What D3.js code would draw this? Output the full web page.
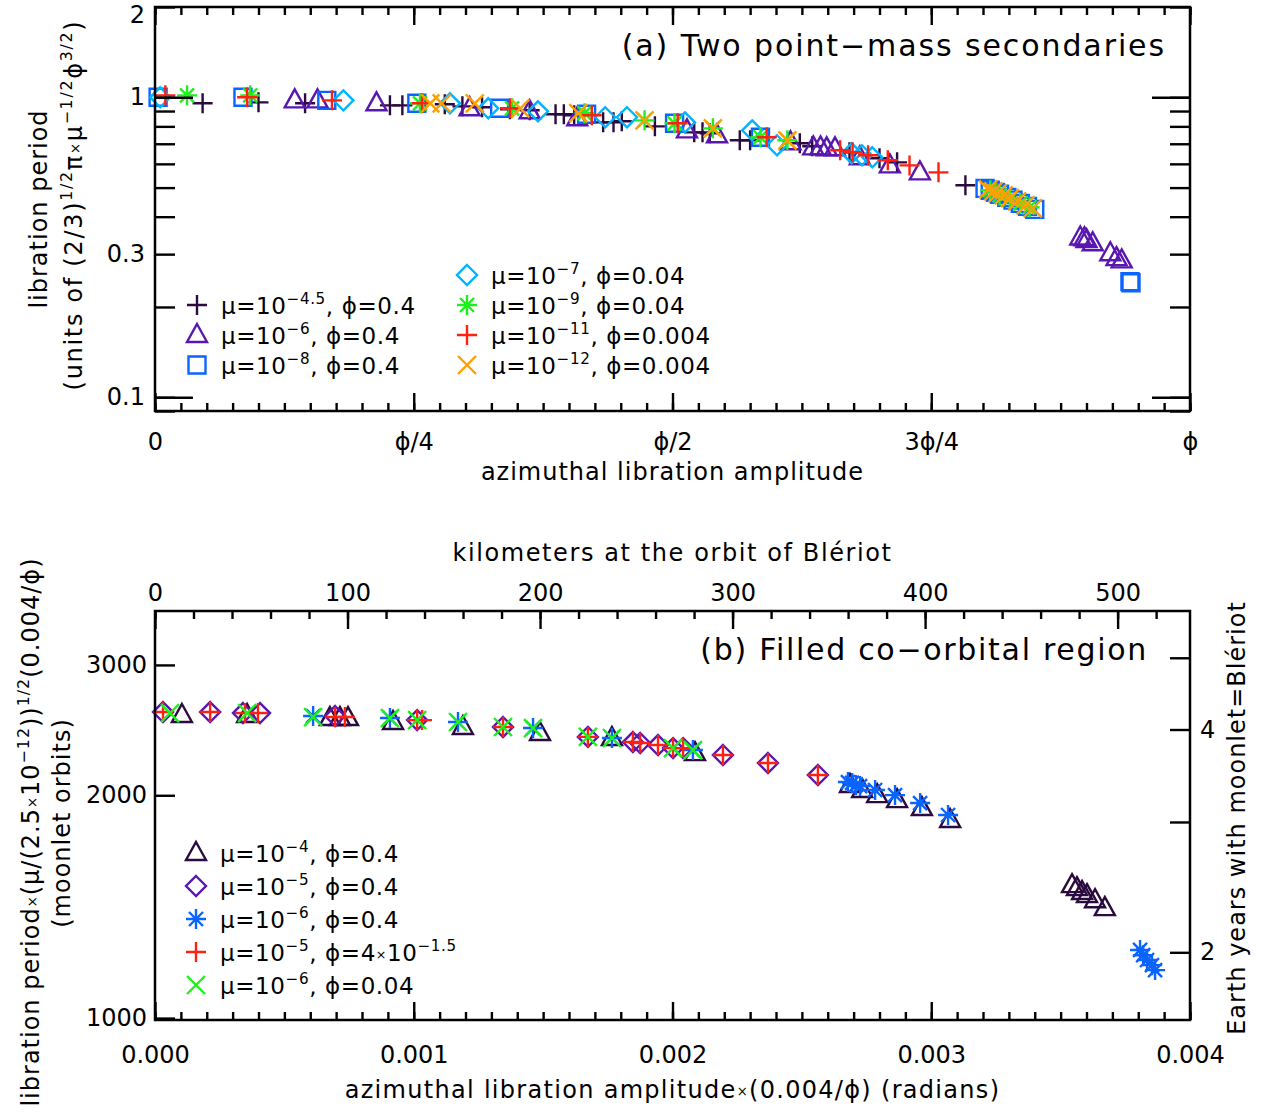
<!DOCTYPE html>
<html>
<head>
<meta charset="utf-8">
<script src="https://cdn.jsdelivr.net/npm/d3@7"></script>
<style>
body { margin: 0; background: #fff; }
svg text { font-family: "DejaVu Sans", sans-serif; fill: #000; }
</style>
</head>
<body>
<svg width="1266" height="1113"></svg>
<script>
// ---- panel (a): amplitude in units of phi, period in units of (2/3)^1/2 pi mu^-1/2 phi^3/2
var topPlusDark = [[0.046,0.955],[0.100,0.962],[0.145,0.955],[0.227,0.940],[0.239,0.940],[0.280,0.948],
  [0.297,0.933],[0.316,0.926],[0.343,0.912],[0.362,0.905],[0.387,0.878],[0.395,0.878],[0.405,0.871],
  [0.433,0.825],[0.443,0.825],[0.451,0.832],[0.483,0.800],[0.521,0.764],[0.529,0.764],[0.536,0.759],
  [0.565,0.719],[0.575,0.719],[0.623,0.703],[0.635,0.687],[0.671,0.656],[0.700,0.626],[0.717,0.607],[0.783,0.509]];
var topTriangle = [[0.135,0.977],[0.157,0.977],[0.214,0.955],[0.304,0.919],[0.362,0.898],[0.408,0.851],
  [0.514,0.776],[0.543,0.747],[0.614,0.708],[0.636,0.681],[0.643,0.681],[0.649,0.676],[0.657,0.676],
  [0.681,0.631],[0.710,0.593],[0.739,0.562],[0.894,0.341],[0.898,0.339],[0.900,0.334],[0.906,0.326],
  [0.923,0.302],[0.929,0.291],[0.934,0.286]];
var topSquare = [[0.003,1.0],[0.085,1.0],[0.166,0.977],[0.253,0.955],[0.333,0.919],[0.417,0.878],
  [0.502,0.819],[0.585,0.736],[0.802,0.497],[0.807,0.490],[0.812,0.482],[0.816,0.475],[0.823,0.464],
  [0.829,0.454],[0.836,0.443],[0.843,0.433],[0.850,0.423],[0.942,0.243],[0.943,0.241]];
var topDiamond = [[0.005,1.0],[0.182,0.977],[0.285,0.955],[0.322,0.919],[0.370,0.898],[0.435,0.858],
  [0.456,0.858],[0.512,0.825],[0.577,0.776],[0.601,0.692],[0.673,0.651],[0.683,0.641],[0.693,0.631]];
var topAsterisk = [[0.031,1.015],[0.092,1.015],[0.256,0.955],[0.345,0.919],[0.415,0.885],[0.473,0.838],
  [0.502,0.819],[0.539,0.788],[0.585,0.736],[0.611,0.719],[0.807,0.490],[0.816,0.471],[0.826,0.458],
  [0.836,0.443],[0.845,0.430]];
var topPlusRed = [[0.010,1.015],[0.089,1.0],[0.171,0.977],[0.258,0.955],[0.343,0.919],[0.422,0.871],
  [0.505,0.819],[0.591,0.736],[0.662,0.666],[0.674,0.656],[0.689,0.641],[0.708,0.617],[0.729,0.593],[0.757,0.562]];
var topCross = [[0.266,0.955],[0.277,0.955],[0.309,0.955],[0.353,0.919],[0.409,0.885],[0.473,0.838],
  [0.539,0.788],[0.611,0.719],[0.805,0.493],[0.810,0.486],[0.814,0.478],[0.820,0.471],[0.826,0.461],
  [0.833,0.450],[0.841,0.436],[0.848,0.426]];

var topMuExp = ["\u22124.5", "\u22126", "\u22128", "\u22127", "\u22129", "\u221211", "\u221212"];
var topPhi = ["0.4", "0.4", "0.4", "0.04", "0.04", "0.004", "0.004"];
var topXTicks = [0, 0.25, 0.5, 0.75, 1];
var topXTickLabels = ["0", "\u03d5/4", "\u03d5/2", "3\u03d5/4", "\u03d5"];
var topYLabelTicks = [0.1, 0.3, 1, 2];

// ---- panel (b): amplitude (radians, scaled), period in moonlet orbits
var botTriangle = [[0.104e-3,2567],[0.356e-3,2567],[0.676e-3,2543],[0.715e-3,2543],[0.746e-3,2543],
  [0.920e-3,2512],[1.190e-3,2473],[1.488e-3,2427],[1.766e-3,2390],[2.087e-3,2280],[2.686e-3,2065],
  [2.733e-3,2033],[2.791e-3,2001],[2.868e-3,1970],[2.964e-3,1922],[3.073e-3,1852],[3.544e-3,1512],
  [3.563e-3,1498],[3.583e-3,1480],[3.602e-3,1466],[3.633e-3,1443],[3.671e-3,1408]];
var botDiamond = [[0.031e-3,2591],[0.213e-3,2591],[0.340e-3,2583],[0.406e-3,2583],[0.696e-3,2559],
  [1.013e-3,2527],[1.345e-3,2473],[1.673e-3,2398],[1.847e-3,2360],[1.875e-3,2353],[1.944e-3,2338],
  [2.002e-3,2316],[2.041e-3,2316],[2.195e-3,2267],[2.369e-3,2211],[2.562e-3,2130]];
var botAsterisk = [[0.611e-3,2559],[0.908e-3,2543],[1.171e-3,2512],[1.461e-3,2465],[1.766e-3,2390],
  [2.079e-3,2302],[2.678e-3,2084],[2.694e-3,2078],[2.709e-3,2065],[2.725e-3,2058],[2.783e-3,2033],
  [2.860e-3,2001],[2.957e-3,1952],[3.065e-3,1881],[3.807e-3,1236],[3.819e-3,1216],[3.834e-3,1198],
  [3.853e-3,1179],[3.865e-3,1161]];
var botPlus = [[0.031e-3,2591],[0.213e-3,2591],[0.348e-3,2583],[0.398e-3,2583],[0.696e-3,2551],
  [0.734e-3,2551],[1.013e-3,2527],[1.032e-3,2527],[1.345e-3,2473],[1.673e-3,2398],[1.847e-3,2360],
  [1.875e-3,2353],[1.944e-3,2338],[2.002e-3,2316],[2.041e-3,2316],[2.195e-3,2267],[2.369e-3,2211],[2.562e-3,2130]];
var botCross = [[0.058e-3,2583],[0.356e-3,2583],[0.611e-3,2551],[0.908e-3,2543],[1.013e-3,2527],
  [1.171e-3,2512],[1.345e-3,2473],[1.461e-3,2465],[1.673e-3,2398],[1.766e-3,2390],[2.002e-3,2316],[2.079e-3,2302]];

var botMuExp = ["\u22124", "\u22125", "\u22126", "\u22125", "\u22126"];
var botPhiBase = ["0.4", "0.4", "0.4", "4\u00d710", "0.04"];
var botPhiExp = ["", "", "", "\u22121.5", ""];
var botXTicks = [0, 0.001, 0.002, 0.003, 0.004];
var kmTicks = [0, 100, 200, 300, 400, 500];
var botYTicks = [1000, 2000, 3000];
var yearTicks = [2, 4];

var kmPerRadian = 134400;     // orbital radius of Bleriot
var yearsPerOrbit = 0.00163;  // orbital period of Bleriot in years

var svg = d3.select("svg");
var L = 155, R = 1190;
var aTop = 7, aBot = 411, bTop = 611, bBot = 1020;

var topX = d3.scaleLinear().domain([0, 1]).range([L, R]);
var topY = d3.scaleLog().domain([0.09, 2]).range([aBot, aTop]);
var botX = d3.scaleLinear().domain([0, 0.004]).range([L, R]);
var kmX = d3.scaleLinear().domain([0, 0.004 * kmPerRadian]).range([L, R]);
var botY = d3.scaleLog().domain([994, 3548]).range([bBot, bTop]);
var yearY = d3.scaleLog().domain([994 * yearsPerOrbit, 3548 * yearsPerOrbit]).range([bBot, bTop]);

// marker shapes (IDL psym look)
var shapes = {
  plus: "M-10,0H10M0,-10V10",
  cross: "M-9,-9L9,9M-9,9L9,-9",
  asterisk: "M-10,0H10M0,-10V10M-7,-7L7,7M-7,7L7,-7",
  diamond: "M0,-10L10,0L0,10L-10,0Z",
  triangle: "M0,-11L10,7L-10,7Z",
  square: "M-8.5,-8.5H8.5V8.5H-8.5Z"
};

var topSeries = [
  { data: topPlusDark, shape: "plus", color: "#2b0b3f" },
  { data: topTriangle, shape: "triangle", color: "#5a17b0" },
  { data: topSquare, shape: "square", color: "#0a64ff" },
  { data: topDiamond, shape: "diamond", color: "#00b4ff" },
  { data: topAsterisk, shape: "asterisk", color: "#1ef01e" },
  { data: topPlusRed, shape: "plus", color: "#ff2010" },
  { data: topCross, shape: "cross", color: "#ffa000" }
];
var botSeries = [
  { data: botTriangle, shape: "triangle", color: "#2b0b3f" },
  { data: botDiamond, shape: "diamond", color: "#5a17b0" },
  { data: botAsterisk, shape: "asterisk", color: "#0a64ff" },
  { data: botPlus, shape: "plus", color: "#ff2010" },
  { data: botCross, shape: "cross", color: "#1ef01e" }
];

// writes a label made of [text, "sup"|"small"|null] parts; dy is carried on the glyphs themselves
function richText(sel, parts, size) {
  var cur = 0;
  parts.forEach(function(p) {
    var off = p[1] == "sup" ? -size * 0.42 : p[1] == "small" ? -size * 0.1 : 0;
    var fs = p[1] == "sup" ? size * 0.66 : p[1] == "small" ? size * 0.55 : size;
    sel.append("tspan").attr("font-size", fs).attr("dy", off - cur).text(p[0]);
    cur = off;
  });
  return sel;
}

function drawMarks(g, series, x, y) {
  series.forEach(function(s) {
    g.append("g").selectAll("path")
      .data(s.data)
      .join("path")
      .attr("d", shapes[s.shape])
      .attr("transform", d => "translate(" + x(d[0]) + "," + y(d[1]) + ")")
      .attr("fill", "none")
      .attr("stroke", s.color)
      .attr("stroke-width", 2.4);
  });
}

function styleAxis(g) {
  g.select(".domain").remove();
  g.selectAll("line").attr("stroke", "#000").attr("stroke-width", 2.4);
  g.selectAll("text").attr("font-family", "DejaVu Sans").attr("font-size", 24).attr("fill", "#000");
}

function logMinors(lo, hi) {
  var out = [];
  for (var e = Math.floor(Math.log10(lo)); e <= Math.ceil(Math.log10(hi)); e++)
    for (var k = 1; k < 10; k++) {
      var v = k * Math.pow(10, e);
      if (v >= lo && v <= hi) out.push(v);
    }
  return out;
}

// ================= panel (a)
var ga = svg.append("g");
drawMarks(ga.append("g"), topSeries, topX, topY);

var topMinorX = d3.range(0, 1.0001, 0.025);
ga.append("g").attr("transform", "translate(0," + aBot + ")")
  .call(d3.axisBottom(topX).tickValues(topMinorX).tickSize(-8).tickFormat("")).call(styleAxis);
ga.append("g").attr("transform", "translate(0," + aTop + ")")
  .call(d3.axisTop(topX).tickValues(topMinorX).tickSize(-8).tickFormat("")).call(styleAxis);
ga.append("g").attr("transform", "translate(0," + aBot + ")")
  .call(d3.axisBottom(topX).tickValues(topXTicks).tickSize(-18).tickPadding(22)
    .tickFormat((d, i) => topXTickLabels[i])).call(styleAxis);
ga.append("g").attr("transform", "translate(0," + aTop + ")")
  .call(d3.axisTop(topX).tickValues(topXTicks).tickSize(-18).tickFormat("")).call(styleAxis);

var topYMinor = logMinors(0.09, 2);
ga.append("g").attr("transform", "translate(" + L + ",0)")
  .call(d3.axisLeft(topY).tickValues(topYMinor).tickSize(-20).tickFormat("")).call(styleAxis);
ga.append("g").attr("transform", "translate(" + R + ",0)")
  .call(d3.axisRight(topY).tickValues(topYMinor).tickSize(-20).tickFormat("")).call(styleAxis);
ga.append("g").attr("transform", "translate(" + L + ",0)")
  .call(d3.axisLeft(topY).tickValues([0.1, 1]).tickSize(-38).tickFormat("")).call(styleAxis);
ga.append("g").attr("transform", "translate(" + R + ",0)")
  .call(d3.axisRight(topY).tickValues([0.1, 1]).tickSize(-38).tickFormat("")).call(styleAxis);
var yLab = ga.append("g").attr("transform", "translate(" + L + ",0)")
  .call(d3.axisLeft(topY).tickValues(topYLabelTicks).tickSize(0).tickPadding(10)
    .tickFormat(d3.format("~g"))).call(styleAxis);
// the top label sits a little below the edge, as in the original
yLab.selectAll(".tick text").filter(d => d == 2).attr("transform", "translate(0,8)");

ga.append("rect").attr("x", L).attr("y", aTop).attr("width", R - L).attr("height", aBot - aTop)
  .attr("fill", "none").attr("stroke", "#000").attr("stroke-width", 2.5);

ga.append("text").attr("x", 1166).attr("y", 56).attr("text-anchor", "end")
  .attr("font-size", 30).attr("letter-spacing", 1.9).text("(a) Two point\u2212mass secondaries");

ga.append("text").attr("x", (L + R) / 2).attr("y", 480).attr("text-anchor", "middle")
  .attr("font-size", 24).attr("letter-spacing", 1).text("azimuthal libration amplitude");

ga.append("text").attr("transform", "translate(47," + ((aTop + aBot) / 2) + ") rotate(-90)")
  .attr("text-anchor", "middle").attr("font-size", 24).attr("letter-spacing", 1).text("libration period");
richText(ga.append("text").attr("transform", "translate(82,205) rotate(-90)")
  .attr("text-anchor", "middle").attr("font-size", 24).attr("letter-spacing", 1.7),
  [["(units of (2/3)", null], ["1/2", "sup"], ["\u03c0", null], ["\u00d7", "small"], ["\u03bc", null],
   ["\u22121/2", "sup"], ["\u03d5", null], ["3/2", "sup"], [")", null]], 24);

// legend (a)
var topLegPos = [[197, 305], [197, 335], [197, 365], [467, 275], [467, 305], [467, 335], [467, 365]];
topSeries.forEach(function(s, i) {
  var p = topLegPos[i];
  ga.append("path").attr("d", shapes[s.shape]).attr("transform", "translate(" + p[0] + "," + p[1] + ")")
    .attr("fill", "none").attr("stroke", s.color).attr("stroke-width", 2.4);
  richText(ga.append("text").attr("x", p[0] + 24).attr("y", p[1] + 9).attr("font-size", 23).attr("letter-spacing", 0.6),
    [["\u03bc=10", null], [topMuExp[i], "sup"], [",  \u03d5=" + topPhi[i], null]], 23);
});

// ================= panel (b)
var gb = svg.append("g");
drawMarks(gb.append("g"), botSeries, botX, botY);

var botMinorX = d3.range(0, 0.0040001, 0.0001);
gb.append("g").attr("transform", "translate(0," + bBot + ")")
  .call(d3.axisBottom(botX).tickValues(botMinorX).tickSize(-8).tickFormat("")).call(styleAxis);
gb.append("g").attr("transform", "translate(0," + bBot + ")")
  .call(d3.axisBottom(botX).tickValues(botXTicks).tickSize(-18).tickPadding(26)
    .tickFormat(d3.format(".3f"))).call(styleAxis);

var kmMinor = d3.range(0, 540, 20);
gb.append("g").attr("transform", "translate(0," + bTop + ")")
  .call(d3.axisTop(kmX).tickValues(kmMinor).tickSize(-8).tickFormat("")).call(styleAxis);
gb.append("g").attr("transform", "translate(0," + bTop + ")")
  .call(d3.axisTop(kmX).tickValues(kmTicks).tickSize(-18).tickPadding(10)
    .tickFormat(d3.format("d"))).call(styleAxis);

gb.append("g").attr("transform", "translate(" + L + ",0)")
  .call(d3.axisLeft(botY).tickValues(botYTicks).tickSize(-20).tickPadding(8)
    .tickFormat(d3.format("d"))).call(styleAxis);
gb.append("g").attr("transform", "translate(" + R + ",0)")
  .call(d3.axisRight(yearY).tickValues([2, 3, 4, 5]).tickSize(-20).tickFormat("")).call(styleAxis);
gb.append("g").attr("transform", "translate(" + R + ",0)")
  .call(d3.axisRight(yearY).tickValues(yearTicks).tickSize(0).tickPadding(10)
    .tickFormat(d3.format("d"))).call(styleAxis);

gb.append("rect").attr("x", L).attr("y", bTop).attr("width", R - L).attr("height", bBot - bTop)
  .attr("fill", "none").attr("stroke", "#000").attr("stroke-width", 2.5);

gb.append("text").attr("x", 1148).attr("y", 660).attr("text-anchor", "end")
  .attr("font-size", 30).attr("letter-spacing", 1.7).text("(b) Filled co\u2212orbital region");

gb.append("text").attr("x", (L + R) / 2).attr("y", 561).attr("text-anchor", "middle")
  .attr("font-size", 24).attr("letter-spacing", 1.6).text("kilometers at the orbit of Bl\u00e9riot");

richText(gb.append("text").attr("x", (L + R) / 2).attr("y", 1098).attr("text-anchor", "middle")
  .attr("font-size", 24).attr("letter-spacing", 1.3),
  [["azimuthal libration amplitude", null], ["\u00d7", "small"], ["(0.004/\u03d5) (radians)", null]], 24);

richText(gb.append("text").attr("transform", "translate(39,832) rotate(-90)")
  .attr("text-anchor", "middle").attr("font-size", 24).attr("letter-spacing", 1),
  [["libration period", null], ["\u00d7", "small"], ["(\u03bc/(2.5", null], ["\u00d7", "small"], ["10", null],
   ["\u221212", "sup"], ["))", null], ["1/2", "sup"], ["(0.004/\u03d5)", null]], 24);
gb.append("text").attr("transform", "translate(70,823) rotate(-90)")
  .attr("text-anchor", "middle").attr("font-size", 24).attr("letter-spacing", 1).text("(moonlet orbits)");

gb.append("text").attr("transform", "translate(1245,818) rotate(-90)")
  .attr("text-anchor", "middle").attr("font-size", 24).attr("letter-spacing", 1)
  .text("Earth years with moonlet=Bl\u00e9riot");

// legend (b)
botSeries.forEach(function(s, i) {
  var px = 196, py = 853 + i * 33;
  gb.append("path").attr("d", shapes[s.shape]).attr("transform", "translate(" + px + "," + py + ")")
    .attr("fill", "none").attr("stroke", s.color).attr("stroke-width", 2.4);
  var parts = [["\u03bc=10", null], [botMuExp[i], "sup"], [",  \u03d5=", null]];
  var base = botPhiBase[i].split("\u00d7");
  parts.push([base[0], null]);
  if (base.length > 1) parts.push(["\u00d7", "small"], [base[1], null]);
  if (botPhiExp[i]) parts.push([botPhiExp[i], "sup"]);
  richText(gb.append("text").attr("x", px + 24).attr("y", py + 9).attr("font-size", 23).attr("letter-spacing", 0.6),
    parts, 23);
});
</script>
</body>
</html>
